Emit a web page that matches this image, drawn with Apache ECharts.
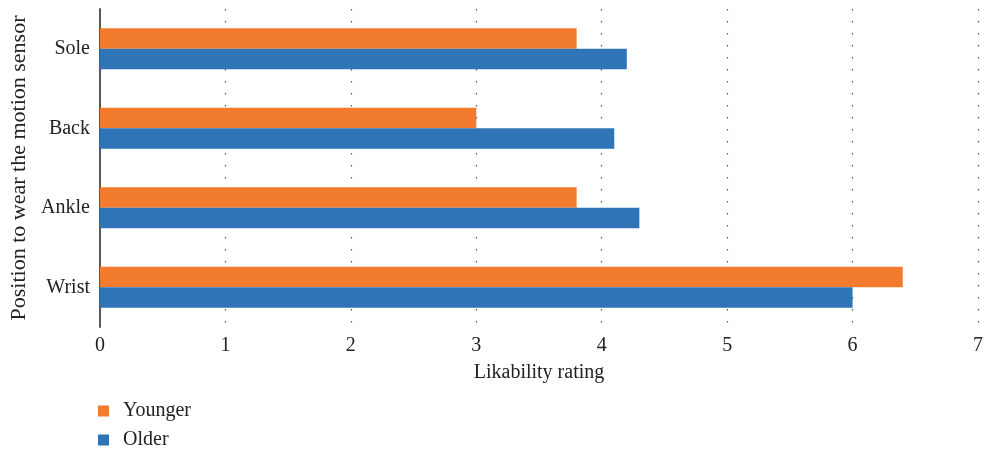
<!DOCTYPE html>
<html>
<head>
<meta charset="utf-8">
<script src="https://cdn.jsdelivr.net/npm/echarts@6/dist/echarts.min.js"></script>
<style>html,body{margin:0;padding:0;background:#fff}#c{width:984px;height:453px}</style>
</head>
<body>
<div id="c"></div>
<script>
var categories = ['Wrist', 'Ankle', 'Back', 'Sole'];
var younger = [6.4, 3.8, 3.0, 3.8];
var older = [6.0, 4.3, 4.1, 4.2];
var xTicks = [0, 1, 2, 3, 4, 5, 6, 7];

var FONT = 'Liberation Serif';
var chart = echarts.init(document.getElementById('c'));
chart.setOption({
  animation: false,
  textStyle: {fontFamily: FONT},
  grid: {left: 100, right: 6, top: 9, bottom: 126, containLabel: false, outerBoundsMode: 'none'},
  legend: {
    orient: 'vertical', left: 98, top: 401, padding: 0,
    data: ['Younger', 'Older'],
    icon: 'rect', itemWidth: 11, itemHeight: 11, itemGap: 9,
    textStyle: {fontFamily: FONT, fontSize: 20, color: '#222', padding: [0, 0, 0, 9]}
  },
  xAxis: {
    type: 'value', min: xTicks[0], max: xTicks[xTicks.length - 1], interval: 1,
    name: 'Likability rating', nameLocation: 'middle', nameGap: 36,
    nameTextStyle: {fontFamily: FONT, fontSize: 20, color: '#222'},
    axisLine: {show: false}, axisTick: {show: false},
    axisLabel: {fontFamily: FONT, fontSize: 20, color: '#222', margin: 9},
    splitLine: {show: true, lineStyle: {color: '#555', width: 1.2, type: [1.5, 10.5]}}
  },
  yAxis: {
    type: 'category', data: categories,
    name: 'Position to wear the motion sensor', nameLocation: 'middle', nameGap: 70,
    nameTextStyle: {fontFamily: FONT, fontSize: 22, color: '#222'},
    axisLine: {show: true, lineStyle: {color: '#5a5a5a', width: 2}},
    axisTick: {show: false},
    axisLabel: {fontFamily: FONT, fontSize: 20, color: '#222', margin: 10}
  },
  series: [
    {name: 'Younger', type: 'bar', data: younger, barWidth: 20.5, barGap: '0%', barCategoryGap: '48%',
     itemStyle: {color: '#F37B2D'}},
    {name: 'Older', type: 'bar', data: older, barWidth: 20.5, barGap: '0%', barCategoryGap: '48%',
     itemStyle: {color: '#2E74B7'}}
  ]
});
</script>
</body>
</html>
